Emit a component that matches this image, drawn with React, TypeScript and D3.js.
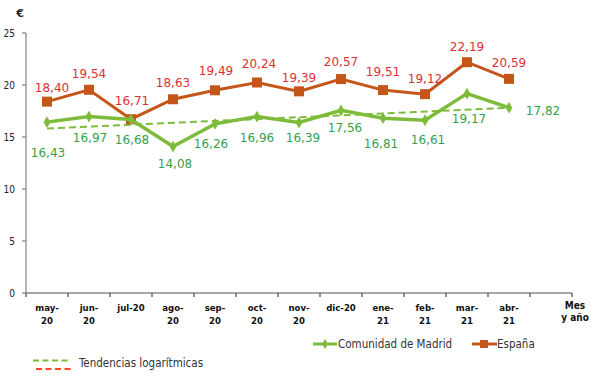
import React from "react";
import * as d3 from "d3";

const categories = ["may-20", "jun-20", "jul-20", "ago-20", "sep-20", "oct-20", "nov-20", "dic-20", "ene-21", "feb-21", "mar-21", "abr-21"];
const tickLines1 = ["may-", "jun-", "jul-20", "ago-", "sep-", "oct-", "nov-", "dic-20", "ene-", "feb-", "mar-", "abr-"];
const tickLines2 = ["20", "20", "", "20", "20", "20", "20", "", "21", "21", "21", "21"];
const madrid = [16.43, 16.97, 16.68, 14.08, 16.26, 16.96, 16.39, 17.56, 16.81, 16.61, 19.17, 17.82];
const espana = [18.4, 19.54, 16.71, 18.63, 19.49, 20.24, 19.39, 20.57, 19.51, 19.12, 22.19, 20.59];
const yTicks = [0, 5, 10, 15, 20, 25];
const seriesNames = ["Comunidad de Madrid", "España"];
const trendLabel = "Tendencias logarítmicas";

// label placement (style config: pixel offsets of each value label from its point)
const madridLabelDy = [31, 21, 20, 17, 20, 21, 15, 17, 26, 19, 25, 3];
const madridLabelDx = [1, 1, 1, 2, -4, 0, 4, 4, -2, 3, 2, 34];
const espanaLabelDy = [-14, -16, -19, -17, -20, -19, -14, -17, -18, -15, -15.5, -16.5];
const espanaLabelDx = [5, 0, 1, 0, 1, 2, 0, 0, 0, 0, 0, 0];

const GREEN = "#7dbb3a";
const ORANGE = "#c4561a";
const GREEN_TXT = "#35a04a";
const RED_TXT = "#dc3035";
const LABEL_FONT = "'DejaVu Sans', Verdana, sans-serif";
const COND_FONT = "'DejaVu Sans Condensed', 'DejaVu Sans', sans-serif";

const fmt = (v: number) => v.toFixed(2).replace(".", ",");

export default function App() {
  const W = 599, H = 382;
  const x0 = 26, x1 = 572, yTop = 33, yBot = 293;
  const slots = [...categories, ""];
  const x = d3.scaleBand<string>().domain(slots.map((c, i) => c || "__" + i)).range([x0, x1]).paddingInner(0).paddingOuter(0);
  const bw = x.bandwidth();
  const cx = (i: number) => (x(categories[i]) as number) + bw / 2;
  const y = d3.scaleLinear().domain([0, 25]).range([yBot, yTop]);

  const line = d3.line<number>().x((_, i) => cx(i)).y((d) => y(d));

  // trend (least squares) for Madrid
  const n = madrid.length;
  const xs = madrid.map((_, i) => i + 1);
  const mx = d3.mean(xs) as number;
  const my = d3.mean(madrid) as number;
  const sxy = d3.sum(xs.map((xv, i) => (xv - mx) * (madrid[i] - my)));
  const sxx = d3.sum(xs.map((xv) => (xv - mx) ** 2));
  const b = sxy / sxx;
  const a = my - b * mx;
  const trendStart = a + b * 1;
  const trendEnd = a + b * n;

  const tickXs = d3.range(slots.length + 1).map((i) => x0 + i * bw);

  return (
    <svg width={W} height={H} style={{ position: "absolute", left: 0, top: 0, background: "#fff" }}>
      <text x={20} y={17} fontFamily={LABEL_FONT} fontWeight="bold" fontSize={11} fill="#222" textAnchor="middle">€</text>
      {/* Y axis */}
      <line x1={x0} x2={x0} y1={yTop} y2={yBot} stroke="#8a8a8a" strokeWidth={1.3} />
      {yTicks.map((t) => (
        <g key={t}>
          <line x1={x0 - 4} x2={x0} y1={y(t)} y2={y(t)} stroke="#8a8a8a" strokeWidth={1.3} />
          <text x={15} y={y(t) + 3.5} fontFamily={COND_FONT} fontSize={10} fill="#222" textAnchor="end">{t}</text>
        </g>
      ))}
      {/* X axis */}
      <line x1={x0} x2={x1} y1={yBot} y2={yBot} stroke="#8a8a8a" strokeWidth={1.3} />
      {tickXs.map((tx, i) => (
        <line key={i} x1={tx} x2={tx} y1={yBot} y2={yBot + 4} stroke="#555" strokeWidth={1.3} />
      ))}
      {categories.map((c, i) => (
        <g key={c}>
          <text x={cx(i)} y={311} fontFamily={COND_FONT} fontWeight="bold" fontSize={9.5} fill="#111" textAnchor="middle">{tickLines1[i]}</text>
          {tickLines2[i] && (
            <text x={cx(i)} y={324} fontFamily={COND_FONT} fontWeight="bold" fontSize={9.5} fill="#111" textAnchor="middle">{tickLines2[i]}</text>
          )}
        </g>
      ))}
      <text x={575} y={309} fontFamily={COND_FONT} fontWeight="bold" fontSize={10} fill="#111" textAnchor="middle">Mes</text>
      <text x={575} y={321} fontFamily={COND_FONT} fontWeight="bold" fontSize={10} fill="#111" textAnchor="middle">y año</text>

      {/* trend */}
      <line x1={cx(0)} x2={cx(n - 1)} y1={y(trendStart)} y2={y(trendEnd)} stroke={GREEN} strokeWidth={2} strokeDasharray="7,4" />

      {/* España */}
      <path d={line(espana) as string} fill="none" stroke={ORANGE} strokeWidth={3} />
      {espana.map((v, i) => (
        <rect key={i} x={cx(i) - 5} y={y(v) - 5} width={10} height={10} fill={ORANGE} />
      ))}
      {/* Madrid */}
      <path d={line(madrid) as string} fill="none" stroke={GREEN} strokeWidth={3.5} />
      {madrid.map((v, i) => (
        <path key={i} d={d3.symbol(d3.symbolDiamond, 40)() as string} transform={`translate(${cx(i)},${y(v)})`} fill={GREEN} />
      ))}

      {/* labels */}
      {espana.map((v, i) => (
        <text key={i} x={cx(i) + espanaLabelDx[i]} y={y(v) + espanaLabelDy[i] + 4.3} fontFamily={LABEL_FONT} fontSize={12} fill={RED_TXT} textAnchor="middle">{fmt(v)}</text>
      ))}
      {madrid.map((v, i) => (
        <text key={i} x={cx(i) + madridLabelDx[i]} y={y(v) + madridLabelDy[i] + 4.3} fontFamily={LABEL_FONT} fontSize={12} fill={GREEN_TXT} textAnchor="middle">{fmt(v)}</text>
      ))}

      {/* legend */}
      <line x1={313} x2={337} y1={344} y2={344} stroke={GREEN} strokeWidth={3} />
      <path d={d3.symbol(d3.symbolDiamond, 30)() as string} transform="translate(325,344)" fill={GREEN} />
      <text x={338} y={348} fontFamily={COND_FONT} fontSize={11.5} fill="#333">{seriesNames[0]}</text>
      <line x1={472} x2={497} y1={344} y2={344} stroke={ORANGE} strokeWidth={3} />
      <rect x={480} y={340} width={8} height={8} fill={ORANGE} />
      <text x={497} y={348} fontFamily={COND_FONT} fontSize={11.5} fill="#333">{seriesNames[1]}</text>

      <line x1={33} x2={68} y1={360.5} y2={360.5} stroke={GREEN} strokeWidth={2.2} strokeDasharray="6,3.5" />
      <line x1={36} x2={72} y1={369} y2={369} stroke="#ff4b1f" strokeWidth={2.2} strokeDasharray="6,3.5" />
      <text x={79} y={367} fontFamily={COND_FONT} fontSize={11.5} fill="#333">{trendLabel}</text>
    </svg>
  );
}
